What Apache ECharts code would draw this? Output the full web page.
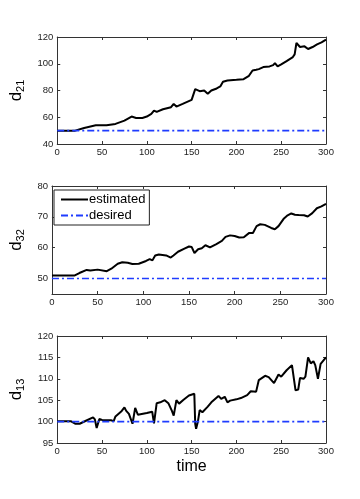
<!DOCTYPE html>
<html><head><meta charset="utf-8">
<script src="https://cdn.jsdelivr.net/npm/echarts@6/dist/echarts.min.js"></script>
<style>html,body{margin:0;padding:0;background:#fff}#c{width:360px;height:499px}</style>
</head><body><div id="c"></div>
<script>
// time stamps and values for each panel
const t21 = [0,20,30,43,55,65,75,83,88,95,100,105,108,111,118,127,130,133,140,150,152,154,156,159,164,168,172,178,182,185,190,200,208,214,218,222,225,230,237,241,243,246,250,256,263,265,267,269,271,276,280,285,290,295,300];
const d21 = [50,50,52,54,54,55,57.5,60.5,59.5,59.5,60.5,62.5,65,64,66,67.5,70,68,70,73,74,81,82,79.5,80,77.5,80,81.5,83,86.5,87.5,88,88.5,91,95,95.5,96,97.5,98,99,100.5,98,99.5,102,105,107,115.5,115,112.5,113,111,112.5,114.5,116,118];
const t32 = [0,20,22,25,30,38,42,50,60,65,72,77,83,88,95,103,107,110,113,117,125,130,133,138,145,150,153,156,160,164,168,173,180,186,190,195,200,205,210,216,220,224,228,233,240,244,248,254,258,262,266,270,276,280,285,290,295,300];
const d32 = [51,51,51.5,51,51.8,52.8,52.6,52.9,52.4,53.2,54.8,55.3,55.1,54.7,54.8,55.7,56.3,55.9,57.5,57.8,57.5,56.8,57.5,58.7,59.7,60.4,60.2,58.3,59.5,59.8,60.8,60.1,61.2,62.2,63.5,64,63.8,63.3,63.4,64.8,64.8,67,67.6,67.4,66.4,66,67,69.5,70.5,71.1,70.7,70.6,70.5,70.1,71.2,72.8,73.4,74.2];
const t13 = [0,15,20,25,27,32,40,42,44,47,50,60,63,65,72,75,77,80,82,84,87,90,100,106,108,111,115,120,124,128,130,133,136,141,147,153,154,155,157,159,162,168,172,180,183,187,190,193,200,205,212,216,222,225,232,236,242,244,247,250,256,262,264,266,269,271,275,277,280,283,286,288,291,294,300];
const d13 = [100.1,100.1,99.5,99.5,99.4,100.2,101,100.5,98.5,100.6,100.4,100.3,100.1,101.2,102.5,103.3,102.5,101.8,101.5,99.5,103.2,101.6,102,102.3,99.6,104.3,104.5,105,104.3,102.5,101.4,105,104.2,105.1,106.1,106.5,99.5,98.3,100,102.7,102.2,103.5,104.5,106,105.3,105.8,104.5,104.9,105.2,105.5,106.2,107.1,107,109.7,110.7,110.4,109,108.6,111,110.5,112,113.2,113.3,107.3,107.5,110.2,110,110.5,115,113.6,114.1,113.2,110,113.5,115];
const desired = [50, 50, 100];
const xTicks = [0,50,100,150,200,250,300];
const yRanges = [[40,120],[45,80],[95,120]];
const yTicks = [[40,60,80,100,120],[50,60,70,80],[95,100,105,110,115,120]];
const yNames = [['d','21'],['d','32'],['d','13']];
const estT = [t21,t32,t13], estV = [d21,d32,d13];

const chart = echarts.init(document.getElementById('c'));
const tops = [37,186,336], heights = [107,108,107];
const FONT = 'Liberation Sans';
const frame = '#333';
const grids = [], xAxes = [], yAxes = [], series = [];
for (let i=0;i<3;i++){
  grids.push({left:50, right:34, top:tops[i], height:heights[i], containLabel:false});
  const xb = {type:'value', gridIndex:i, min:0, max:300, interval:50,
    axisLine:{show:true,lineStyle:{color:frame,width:1}},
    axisTick:{show:true,inside:true,length:3,lineStyle:{color:frame}},
    axisLabel:{show:true,fontSize:9.5,color:'#222',fontFamily:FONT,margin:3},
    splitLine:{show:false}};
  if (i===2){ xb.name='time'; xb.nameLocation='middle'; xb.nameGap=16; xb.nameTextStyle={fontSize:16,color:'#000',fontFamily:FONT}; }
  xAxes.push(xb);
  xAxes.push({type:'value', gridIndex:i, position:'top', min:0, max:300, interval:50,
    axisLine:{show:true,onZero:false,lineStyle:{color:frame,width:1}},
    axisTick:{show:true,inside:true,length:3,lineStyle:{color:frame}},
    axisLabel:{show:false}, splitLine:{show:false}});
  const yr = yRanges[i];
  yAxes.push({type:'value', gridIndex:i, min:yr[0], max:yr[1],
    name:'{d|'+yNames[i][0]+'}{s|'+yNames[i][1]+'}', nameLocation:'middle', nameGap:21, nameRotate:90,
    nameTextStyle:{rich:{d:{fontSize:17,fontFamily:FONT,color:'#000'},s:{fontSize:11,fontFamily:FONT,color:'#000',padding:[9,0,0,0]}}},
    axisLine:{show:true,onZero:false,lineStyle:{color:frame,width:1}},
    axisTick:{show:true,inside:true,length:3,customValues:yTicks[i],lineStyle:{color:frame}},
    axisLabel:{show:true,fontSize:9.5,color:'#222',fontFamily:FONT,margin:4,customValues:yTicks[i]},
    splitLine:{show:false}});
  yAxes.push({type:'value', gridIndex:i, position:'right', min:yr[0], max:yr[1],
    axisLine:{show:true,onZero:false,lineStyle:{color:frame,width:1}},
    axisTick:{show:true,inside:true,length:3,customValues:yTicks[i],lineStyle:{color:frame}},
    axisLabel:{show:false}, splitLine:{show:false}});
  series.push({name:'estimated', type:'line', xAxisIndex:2*i, yAxisIndex:2*i, showSymbol:false, symbol:'none',
    data: estT[i].map((t,k)=>[t,estV[i][k]]), lineStyle:{color:'#000',width:2}, itemStyle:{color:'#000'}, z:2, animation:false});
  series.push({name:'desired', type:'line', xAxisIndex:2*i, yAxisIndex:2*i, showSymbol:false, symbol:'none',
    data: [[0,desired[i]],[300,desired[i]]], lineStyle:{color:'#1f3cff',width:1.6,type:[7,3,2,3]}, itemStyle:{color:'#1f3cff'}, z:3, animation:false});
}
chart.setOption({
  animation:false,
  grid:grids, xAxis:xAxes, yAxis:yAxes, series:series,
  legend:{show:true, data:['estimated','desired'], left:54, top:190, orient:'vertical', z:10,
    backgroundColor:'#fff', borderColor:'#222', borderWidth:1, padding:[3,4,3,6], itemGap:3,
    itemWidth:27, itemHeight:12, itemStyle:{opacity:0},
    textStyle:{fontSize:13,color:'#000',fontFamily:FONT,padding:[0,0,0,-4]}}
});
</script></body></html>
